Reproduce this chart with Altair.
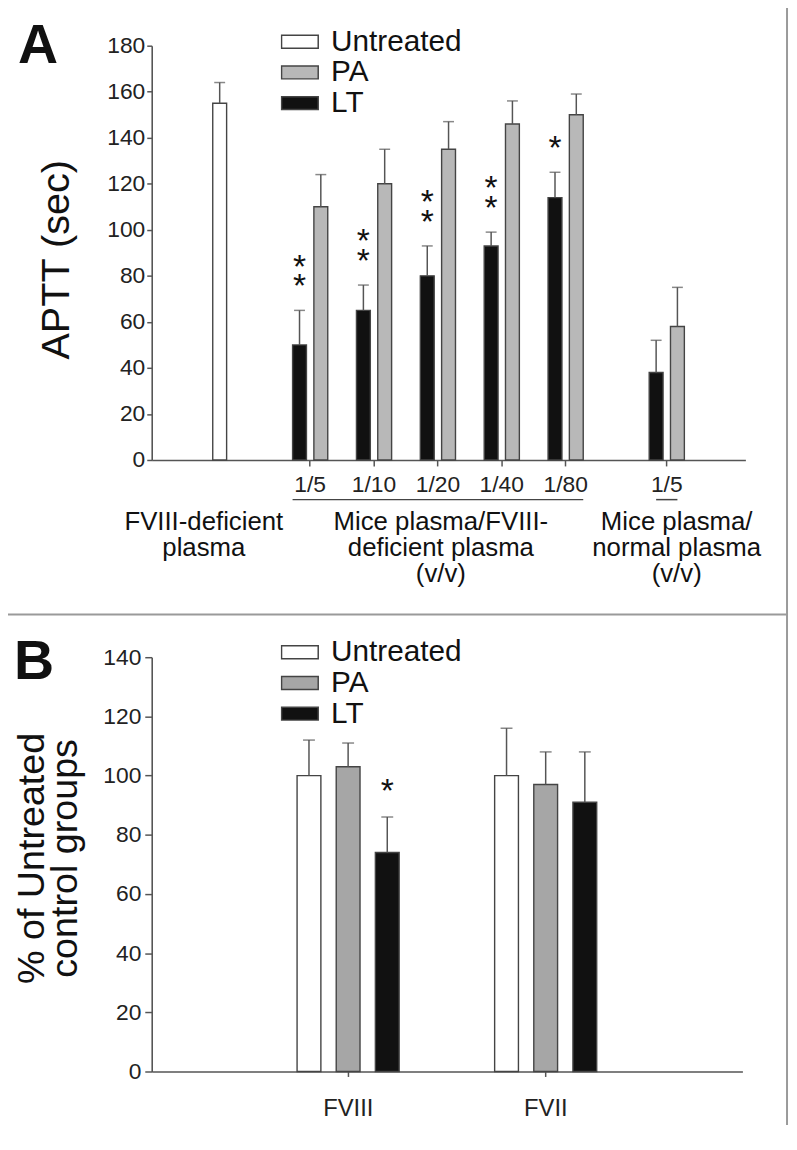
import altair as alt
import pandas as pd

FONT = "Liberation Sans"

# ---------------- Panel A data ----------------
dilutions = ["1/5", "1/10", "1/20", "1/40", "1/80"]
lt_mean = [50, 65, 80, 93, 114]
lt_err = [15, 11, 13, 6, 11]
pa_mean = [110, 120, 135, 146, 150]
pa_err = [14, 15, 12, 10, 9]
lt_sig = ["**", "**", "**", "**", "*"]

normal_label = "1/5 "
normal_lt_mean, normal_lt_err = 38, 14
normal_pa_mean, normal_pa_err = 58, 17

deficient_label = "FVIII-deficient"
deficient_mean, deficient_err = 155, 9

treatments = ["Untreated", "PA", "LT"]

# ---------------- Panel B data ----------------
factors = ["FVIII", "FVII"]
b_untreated_mean = [100, 100]
b_untreated_err = [12, 16]
b_pa_mean = [103, 97]
b_pa_err = [8, 11]
b_lt_mean = [74, 91]
b_lt_err = [12, 17]
b_lt_sig = ["*", ""]

# ---------------- Panel A table ----------------
rows_a = [{"slot": deficient_label + "|Untreated", "treatment": "Untreated",
           "mean": deficient_mean, "err": deficient_err, "sig": ""}]
for g, lm, le, pm, pe, s in zip(dilutions, lt_mean, lt_err, pa_mean, pa_err, lt_sig):
    rows_a.append({"slot": g + "|LT", "treatment": "LT", "mean": lm, "err": le, "sig": s})
    rows_a.append({"slot": g + "|PA", "treatment": "PA", "mean": pm, "err": pe, "sig": ""})
rows_a.append({"slot": normal_label + "|LT", "treatment": "LT",
               "mean": normal_lt_mean, "err": normal_lt_err, "sig": ""})
rows_a.append({"slot": normal_label + "|PA", "treatment": "PA",
               "mean": normal_pa_mean, "err": normal_pa_err, "sig": ""})
df_a = pd.DataFrame(rows_a)

# fine slot layout of the band scale (layout only)
N_SLOTS = 111
slot_names = [f"_{i}" for i in range(N_SLOTS)]
slot_names[12] = deficient_label + "|Untreated"
tick_names = dilutions + [normal_label]
for name, i in zip(tick_names, [29, 41, 53, 65, 77, 96]):
    slot_names[i] = name
    slot_names[i - 2] = name + "|LT"
    slot_names[i + 2] = name + "|PA"

axis_style = dict(grid=False, title=None, labelColor="#222", labelFont=FONT,
                  domainColor="#555", tickColor="#555", domainWidth=1.6, tickWidth=1.5)

x_scale_a = alt.Scale(type="band", domain=slot_names, paddingInner=0, paddingOuter=0.27)
x_axis_a = alt.Axis(values=tick_names, labelAngle=0, tickSize=6, labelPadding=8,
                    labelFontSize=23, **axis_style)
XA = alt.X("slot:N", scale=x_scale_a, axis=x_axis_a)

y_scale_a = alt.Scale(domain=[0, 180], nice=False)
y_axis_a = alt.Axis(values=list(range(0, 181, 20)), tickSize=5, labelPadding=2,
                    labelFontSize=23, **axis_style)
YA = alt.Y("mean:Q", scale=y_scale_a, axis=y_axis_a)
YA_top = alt.Y("top:Q", scale=y_scale_a, axis=y_axis_a)

legend_common = dict(orient="none", legendX=130, title=None,
                     symbolType="M-1,-0.35H1V0.35H-1Z", symbolSize=1369,
                     symbolStrokeColor="#444", symbolStrokeWidth=1.5, symbolOpacity=1,
                     labelFontSize=30, labelFont=FONT, labelColor="#111",
                     labelOffset=12, rowPadding=0, clipHeight=29, padding=0)

fill_a = alt.Fill("treatment:N",
                  scale=alt.Scale(domain=treatments, range=["#ffffff", "#b8b8b8", "#111111"]),
                  legend=alt.Legend(legendY=-18.5, **legend_common))

base_a = alt.Chart(df_a).transform_calculate(top="datum.mean + datum.err")

bars_a = base_a.mark_bar(size=14, stroke="#444", strokeWidth=1.4).encode(x=XA, y=YA, fill=fill_a)
err_a = base_a.mark_rule(color="#555", strokeWidth=1.5).encode(x=XA, y=YA, y2="top:Q")
cap_a = base_a.mark_tick(size=11, thickness=1.5, color="#555").encode(x=XA, y=YA_top)

star_style = dict(fontSize=34, baseline="bottom", color="#111", font=FONT)
stars_low_a = base_a.transform_filter("length(datum.sig) >= 1").transform_calculate(
    star="substring(datum.sig, 0, 1)"
).mark_text(dy=-6, **star_style).encode(x=XA, y=YA_top, text="star:N")
stars_high_a = base_a.transform_filter("length(datum.sig) >= 2").transform_calculate(
    star="substring(datum.sig, 1, 2)"
).mark_text(dy=-26, **star_style).encode(x=XA, y=YA_top, text="star:N")


def group_text(slot, label, dx):
    return alt.Chart(pd.DataFrame({"slot": [slot], "label": [label]})).mark_text(
        fontSize=26, lineBreak="\n", lineHeight=26, baseline="top", align="center",
        dx=dx, color="#111", font=FONT
    ).encode(x=XA, y=alt.value(468), text="label:N")


grp1 = group_text(deficient_label + "|Untreated", "FVIII-deficient\nplasma", -16)
grp2 = group_text("1/20", "Mice plasma/FVIII-\ndeficient plasma\n(v/v)", 3)
grp3 = group_text(normal_label, "Mice plasma/\nnormal plasma\n(v/v)", 10)

XA2 = alt.X2("slot2:N")
under1 = alt.Chart(pd.DataFrame({"slot": [dilutions[0] + "|LT"], "slot2": [dilutions[-1] + "|PA"]})).mark_rule(
    color="#444", strokeWidth=1.5, xOffset=-7, x2Offset=7).encode(x=XA, x2=XA2, y=alt.value(458))
under2 = alt.Chart(pd.DataFrame({"slot": [normal_label + "|LT"], "slot2": [normal_label + "|PA"]})).mark_rule(
    color="#444", strokeWidth=1.5).encode(x=XA, x2=XA2, y=alt.value(458))

one = pd.DataFrame({"t": ["A"]})
letter_a = alt.Chart(one).mark_text(fontSize=56, fontWeight="bold", align="left", baseline="top",
                                    color="#111", font=FONT).encode(
    x=alt.value(-135), y=alt.value(-27), text="t:N")
ytitle_a = alt.Chart(pd.DataFrame({"t": ["APTT (sec)"]})).mark_text(
    fontSize=40, angle=270, align="center", baseline="middle", color="#111", font=FONT).encode(
    x=alt.value(-95), y=alt.value(216), text="t:N")

frame_color = "#9a9a9a"
divider = alt.Chart(one).mark_rule(color=frame_color, strokeWidth=2).encode(
    x=alt.value(-152), x2=alt.value(642), y=alt.value(574))
right_border = alt.Chart(one).mark_rule(color=frame_color, strokeWidth=2).encode(
    x=alt.value(641), y=alt.value(-40), y2=alt.value(1089))
left_border = alt.Chart(one).mark_rule(color=frame_color, strokeWidth=2).encode(
    x=alt.value(-152), y=alt.value(-40), y2=alt.value(1089))
top_border = alt.Chart(one).mark_rule(color=frame_color, strokeWidth=2).encode(
    x=alt.value(-152), x2=alt.value(642), y=alt.value(-40))

panel_a = alt.layer(bars_a, err_a, cap_a, stars_low_a, stars_high_a, under1, under2,
                    grp1, grp2, grp3, letter_a, ytitle_a, divider, right_border,
                    left_border, top_border).properties(width=599, height=418)

# ---------------- Panel B table ----------------
rows_b = []
for f, um, ue, pm, pe, lm, le, s in zip(factors, b_untreated_mean, b_untreated_err,
                                        b_pa_mean, b_pa_err, b_lt_mean, b_lt_err, b_lt_sig):
    rows_b.append({"factor": f, "treatment": "Untreated", "mean": um, "err": ue, "sig": ""})
    rows_b.append({"factor": f, "treatment": "PA", "mean": pm, "err": pe, "sig": ""})
    rows_b.append({"factor": f, "treatment": "LT", "mean": lm, "err": le, "sig": s})
df_b = pd.DataFrame(rows_b)

x_scale_b = alt.Scale(type="band", domain=factors, paddingInner=0, paddingOuter=0.495)
x_axis_b = alt.Axis(labelAngle=0, tickSize=5, labelPadding=20, labelFontSize=24, **axis_style)
XB = alt.X("factor:N", scale=x_scale_b, axis=x_axis_b)
XOB = alt.XOffset("treatment:N", scale=alt.Scale(domain=treatments, paddingInner=0.392,
                                                 paddingOuter=0, range=[48, 151]))
y_scale_b = alt.Scale(domain=[0, 140], nice=False)
y_axis_b = alt.Axis(values=list(range(0, 141, 20)), tickSize=7, labelPadding=4,
                    labelFontSize=23, **axis_style)
YB = alt.Y("mean:Q", scale=y_scale_b, axis=y_axis_b)
YB_top = alt.Y("top:Q", scale=y_scale_b, axis=y_axis_b)

fill_b = alt.Fill("treatment:N",
                  scale=alt.Scale(domain=treatments, range=["#ffffff", "#a6a6a6", "#111111"]),
                  legend=alt.Legend(legendY=-19.5, **legend_common))

base_b = alt.Chart(df_b).transform_calculate(top="datum.mean + datum.err")
bars_b = base_b.mark_bar(stroke="#444", strokeWidth=1.4).encode(x=XB, xOffset=XOB, y=YB, fill=fill_b)
err_b = base_b.mark_rule(color="#555", strokeWidth=1.5).encode(x=XB, xOffset=XOB, y=YB, y2="top:Q")
cap_b = base_b.mark_tick(size=12, thickness=1.5, color="#555").encode(x=XB, xOffset=XOB, y=YB_top)
stars_b = base_b.transform_filter("datum.sig != ''").mark_text(
    dy=-8, **star_style
).encode(x=XB, xOffset=XOB, y=YB_top, text="sig:N")

letter_b = alt.Chart(pd.DataFrame({"t": ["B"]})).mark_text(
    fontSize=56, fontWeight="bold", align="left", baseline="top", color="#111", font=FONT).encode(
    x=alt.value(-139), y=alt.value(-22), text="t:N")
ytitle_b = alt.Chart(pd.DataFrame({"t": ["% of Untreated\ncontrol groups"]})).mark_text(
    fontSize=38, angle=270, align="center", baseline="middle", lineBreak="\n", lineHeight=34,
    color="#111", font=FONT).encode(x=alt.value(-120), y=alt.value(203), text="t:N")

panel_b = alt.layer(bars_b, err_b, cap_b, stars_b, letter_b, ytitle_b).properties(width=596, height=418)

chart = alt.vconcat(panel_a, panel_b, spacing=199, bounds="flush").resolve_scale(
    x="independent", y="independent", fill="independent", xOffset="independent"
).resolve_legend(fill="independent").properties(
    padding={"left": -8, "top": -8, "right": 0, "bottom": 0}, background="white"
).configure(font=FONT).configure_view(stroke=None)

chart.save("out.html", embed_options={"renderer": "svg", "actions": False})
